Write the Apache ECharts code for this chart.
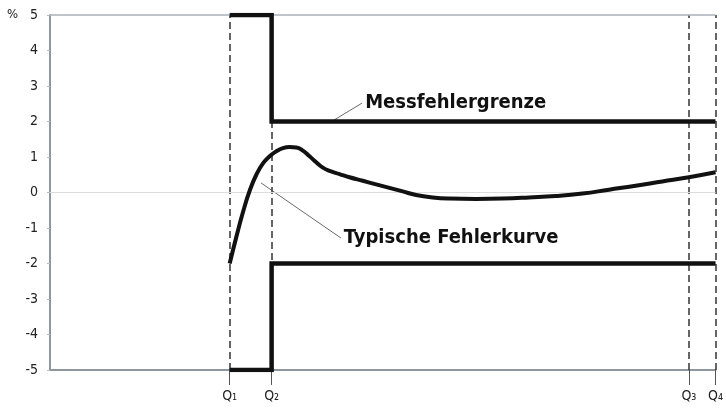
<!DOCTYPE html>
<html>
<head>
<meta charset="utf-8">
<script src="https://cdn.jsdelivr.net/npm/echarts@6/dist/echarts.min.js"></script>
<style>
  html, body { margin: 0; padding: 0; background: #fff; }
  #chart { width: 726px; height: 414px; }
</style>
</head>
<body>
<div id="chart"></div>
<script>
// Q-Punkte auf der Durchfluss-Achse (0..100)
const qLabels = ['Q₁', 'Q₂', 'Q₃', 'Q₄'];
const qPos = [27, 33.3, 96, 100];

// Messfehlergrenze (obere/untere)
const limitX = [27, 33.3, 33.3, 100];
const upperLimit = [5, 5, 2, 2];
const lowerLimit = [-5, -5, -2, -2];

// typische Fehlerkurve
const curveX = [27, 28, 29, 30, 31, 32, 33, 34, 35, 36, 37, 38, 39, 40, 41, 42, 43.5, 45, 47, 49, 51, 53, 55, 57.5, 60, 64, 68, 72, 76, 80, 84, 88, 92, 96, 100];
const curveY = [-2.0, -1.25, -0.55, 0.05, 0.5, 0.82, 1.02, 1.16, 1.25, 1.28, 1.27, 1.18, 1.02, 0.85, 0.7, 0.61, 0.52, 0.43, 0.33, 0.23, 0.13, 0.03, -0.07, -0.14, -0.17, -0.18, -0.17, -0.14, -0.1, -0.03, 0.08, 0.19, 0.31, 0.43, 0.57];

// Beschriftungen mit Hinweislinie
const labelLimit = { text: 'Messfehlergrenze', x: [42.4, 46.9], y: [2.01, 2.52] };
const labelCurve = { text: 'Typische Fehlerkurve', x: [31.7, 43.7], y: [0.27, -1.28] };

const yTicks = [-5, -4, -3, -2, -1, 0, 1, 2, 3, 4, 5];

const narrow = "'Liberation Sans Narrow', 'DejaVu Sans Condensed', 'Roboto Condensed', sans-serif";

function zip(xs, ys) {
  return xs.map((x, i) => [x, ys[i]]);
}

function leader(lbl) {
  return {
    type: 'line',
    data: zip(lbl.x, lbl.y),
    symbol: 'none',
    silent: true,
    lineStyle: { color: '#6a6a6a', width: 1 },
    endLabel: {
      show: true,
      formatter: lbl.text,
      color: '#111',
      fontFamily: narrow,
      fontWeight: 'bold',
      fontSize: 20,
      distance: 3
    },
    z: 4
  };
}

let myChart = echarts.init(document.getElementById('chart'));
let option = {
  animation: false,
  grid: { left: 50, right: 8, top: 15, bottom: 44 },
  graphic: [
    { type: 'text', left: 7, top: 8, style: { text: '%', fontSize: 13, fontFamily: narrow, fill: '#222' } }
  ],
  xAxis: {
    type: 'value',
    min: 0,
    max: 100,
    axisLine: { show: true, onZero: false, lineStyle: { color: '#8e969e', width: 2 } },
    axisTick: { show: true, customValues: qPos, length: 15, lineStyle: { color: '#555', width: 1 } },
    axisLabel: {
      customValues: qPos,
      formatter: v => qLabels[qPos.indexOf(v)],
      color: '#222',
      fontFamily: narrow,
      fontSize: 14,
      margin: 19
    },
    splitLine: { show: false }
  },
  yAxis: {
    type: 'value',
    min: -5,
    max: 5,
    interval: 1,
    axisLine: { show: true, onZero: false, lineStyle: { color: '#8e969e', width: 2 } },
    axisTick: { show: true, length: 3, lineStyle: { color: '#bbb' } },
    axisLabel: {
      formatter: v => yTicks.indexOf(v) >= 0 ? String(v) : '',
      color: '#222',
      fontFamily: narrow,
      fontSize: 14,
      margin: 12
    },
    splitLine: { show: false }
  },
  series: [
    {
      // Q-Hilfslinien (gestrichelt)
      type: 'line',
      data: [],
      silent: true,
      markLine: {
        symbol: 'none',
        silent: true,
        label: { show: false },
        lineStyle: { color: '#333', width: 1.5, type: [7, 4] },
        data: qPos.map(q => ({ xAxis: q }))
      }
    },
    {
      type: 'line',
      data: [],
      silent: true,
      markLine: {
        symbol: 'none',
        silent: true,
        label: { show: false },
        data: [
          { yAxis: 0, lineStyle: { color: '#dcdcdc', width: 1, type: 'solid' } },
          { yAxis: 5, lineStyle: { color: '#a8b0b8', width: 1.5, type: 'solid' } }
        ]
      }
    },
    {
      name: 'Messfehlergrenze oben',
      type: 'line',
      data: zip(limitX, upperLimit),
      symbol: 'none',
      lineStyle: { color: '#111', width: 4.5, join: 'miter' },
      z: 5
    },
    {
      name: 'Messfehlergrenze unten',
      type: 'line',
      data: zip(limitX, lowerLimit),
      symbol: 'none',
      lineStyle: { color: '#111', width: 4.5, join: 'miter' },
      z: 5
    },
    {
      name: 'Typische Fehlerkurve',
      type: 'line',
      data: zip(curveX, curveY),
      symbol: 'none',
      smooth: 0.5,
      lineStyle: { color: '#111', width: 4, join: 'round' },
      z: 5
    },
    leader(labelLimit),
    leader(labelCurve)
  ]
};
myChart.setOption(option);
</script>
</body>
</html>
